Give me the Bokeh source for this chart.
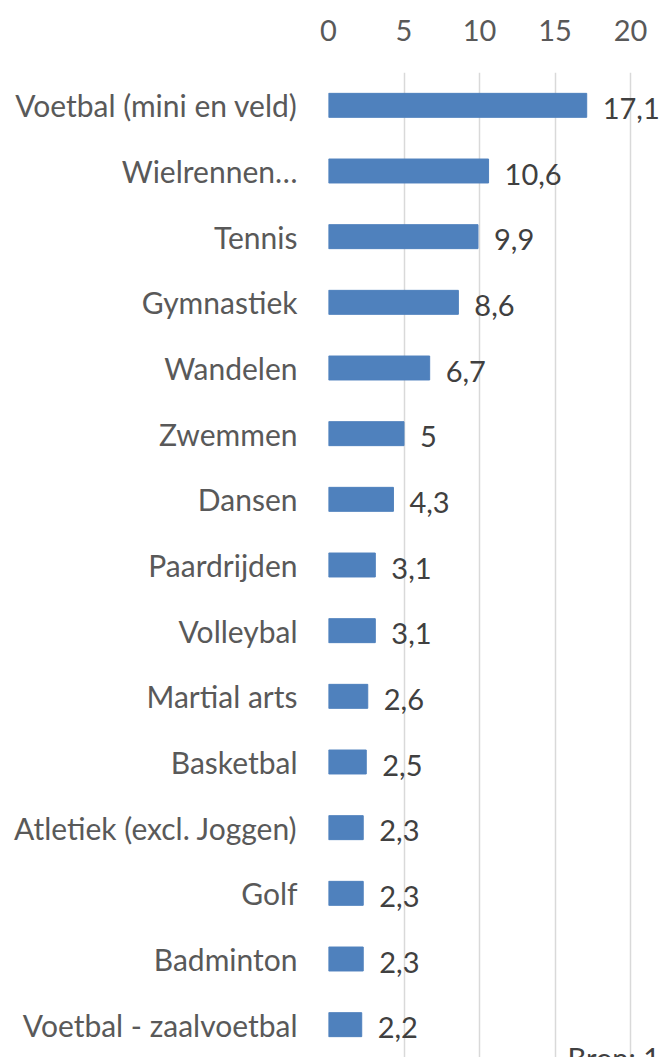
from bokeh.plotting import figure
from bokeh.models import ColumnDataSource, FixedTicker, Label, Range1d, FactorRange
from bokeh.core.properties import value
from bokeh.embed import file_html
from bokeh.resources import INLINE

categories = ["Voetbal (mini en veld)", "Wielrennen\u2026", "Tennis", "Gymnastiek", "Wandelen",
              "Zwemmen", "Dansen", "Paardrijden", "Volleybal", "Martial arts", "Basketbal",
              "Atletiek (excl. Joggen)", "Golf", "Badminton", "Voetbal - zaalvoetbal"]
values = [17.1, 10.6, 9.9, 8.6, 6.7, 5, 4.3, 3.1, 3.1, 2.6, 2.5, 2.3, 2.3, 2.3, 2.2]
value_labels = ["17,1", "10,6", "9,9", "8,6", "6,7", "5", "4,3", "3,1", "3,1", "2,6", "2,5",
                "2,3", "2,3", "2,3", "2,2"]
x_ticks = [0, 5, 10, 15, 20]
source_note = "Bron: 1"

FONT = "Lato"
TXT = "#595959"
FS = "29px"

src = ColumnDataSource(dict(cat=categories, val=values, lab=value_labels))

p = figure(width=659, height=1057, output_backend="svg", toolbar_location=None,
           y_range=FactorRange(factors=list(reversed(categories)), range_padding=0),
           x_range=Range1d(0, 21.92), x_axis_location="above",
           min_border_left=328, min_border_right=0, min_border_top=72, min_border_bottom=0)
p.outline_line_color = None
p.background_fill_color = "white"

p.hbar(y="cat", right="val", left=0, height=0.365, source=src, color="#4F81BD")
p.text(x="val", y="cat", text="lab", source=src, x_offset=16, y_offset=3,
       text_align="left", text_baseline="middle", text_color="#404040",
       text_font=value(FONT), text_font_size=FS)

p.xaxis.ticker = FixedTicker(ticks=x_ticks)
p.xaxis.axis_line_color = None
p.xaxis.major_tick_line_color = None
p.xaxis.minor_tick_line_color = None
p.xaxis.major_label_text_font = FONT
p.xaxis.major_label_text_font_size = FS
p.xaxis.major_label_text_color = TXT
p.xaxis.major_label_standoff = 26

p.yaxis.axis_line_color = None
p.yaxis.major_tick_line_color = None
p.yaxis.major_label_text_font = FONT
p.yaxis.major_label_text_font_size = "30px"
p.yaxis.major_label_text_color = TXT
p.yaxis.major_label_standoff = 25

p.xgrid.ticker = FixedTicker(ticks=x_ticks)
p.xgrid.grid_line_color = "#D9D9D9"
p.xgrid.grid_line_width = 1.5
p.ygrid.grid_line_color = None

p.add_layout(Label(x=15.83, y=0.26, text=source_note, text_baseline="top", text_align="left",
                   text_font=FONT, text_font_size=FS, text_color="#404040"))

open("out.html", "w").write(file_html(p, INLINE))
